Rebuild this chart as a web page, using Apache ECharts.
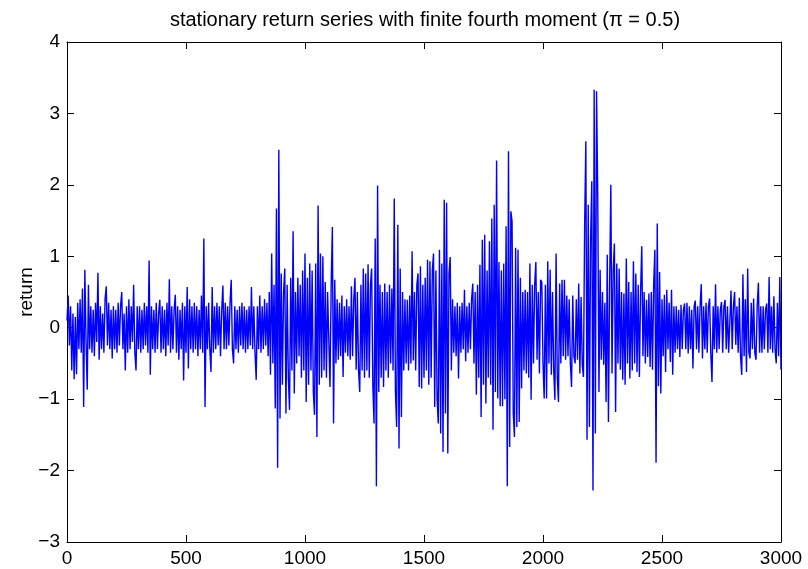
<!DOCTYPE html>
<html>
<head>
<meta charset="utf-8">
<script src="https://cdn.jsdelivr.net/npm/echarts@6/dist/echarts.min.js"></script>
<style>
html,body{margin:0;padding:0;background:#fff;}
#chart{width:808px;height:569px;}
</style>
</head>
<body>
<div id="chart"></div>
<script>
// Observation step (x spacing of the plotted points)
const STEP = 5;
const returns0000 = [
 0.1,0.45,-0.25,0.3,-0.6,0.2,-0.72,0.15,-0.65,0.35,-0.3,0.4,-0.35,0.55,-1.11,0.81,-0.2,-0.87,0.6,-0.3,
 0.3,-0.35,0.25,-0.4,0.35,-0.2,0.77,-0.45,0.3,-0.3,0.2,-0.35,0.4,0.58,-0.25,0.35,-0.3,0.25,-0.43,0.3,
 -0.3,0.25,-0.35,0.35,-0.25,0.3,0.5,-0.3,0.2,-0.6,0.3,-0.35,0.4,-0.3,0.3,-0.2,0.6,-0.35,-0.6,0.3,
 -0.3,0.3,-0.35,0.25,-0.3,0.35,-0.25,0.3,-0.35,0.94,-0.66,0.3,-0.3,0.25,-0.35,0.35,-0.3,0.2,0.39,-0.35,
 0.3,-0.3,0.25,-0.4,0.35,-0.25,0.68,-0.35,0.3,-0.3,0.25,0.46,-0.35,0.3,-0.45,0.25,-0.3,0.35,-0.74,0.3
];
const returns0500 = [
 -0.35,0.57,-0.57,0.4,-0.3,0.3,-0.35,0.35,-0.3,0.3,-0.4,0.25,-0.3,0.45,-0.35,1.25,-1.11,0.3,-0.3,0.35,
 -0.3,-0.62,0.57,-0.35,0.3,-0.3,0.35,-0.25,0.3,-0.4,0.25,0.59,-0.3,0.35,-0.3,0.3,-0.25,0.35,0.67,-0.3,
 -0.5,0.3,-0.3,0.25,-0.35,0.3,-0.25,0.35,-0.3,0.3,-0.35,0.25,-0.3,0.3,-0.25,0.57,-0.3,0.3,-0.35,-0.73,
 0.3,-0.3,0.45,-0.35,0.3,-0.3,0.4,-0.25,0.35,-0.4,0.5,-0.66,1.04,-0.5,0.6,-1.13,1.67,-1.96,2.49,-1.27,
 0.76,-0.8,0.5,0.83,-1.2,0.6,-0.7,-1.15,0.7,-0.6,1.35,-0.92,0.5,-0.5,0.7,-0.4,0.6,-0.7,0.8,-0.6
];
const returns1000 = [
 1.04,-1.04,0.7,-0.8,0.9,-0.6,0.8,-0.9,-1.22,0.9,-1.53,1.71,-0.8,1.04,-0.7,1.0,-0.6,0.64,-0.7,0.5,
 0.48,-0.83,0.6,1.41,-1.34,0.67,-0.5,0.4,-0.45,0.35,-0.4,0.45,-0.69,0.3,-0.35,0.4,-0.4,0.3,-0.45,0.58,
 -0.4,0.4,0.7,-0.59,0.5,-0.6,-0.9,0.6,-0.6,0.83,-0.7,0.76,-0.6,0.89,-0.7,0.6,0.83,-0.8,-1.34,1.25,
 -2.22,1.99,-0.9,0.6,-0.7,0.5,-0.83,0.62,-0.6,0.5,-0.7,0.6,-0.5,0.55,-0.6,1.81,-0.9,-1.39,1.44,-1.69,
 0.83,-1.25,0.5,-0.6,0.4,-0.5,0.39,-0.6,0.45,-0.5,1.07,-0.46,0.5,-0.6,0.6,0.76,-0.83,0.86,-0.85,0.6
];
const returns1500 = [
 -0.7,0.7,-0.6,0.95,-0.8,0.93,-0.7,0.8,1.04,-1.11,0.8,-1.0,-1.34,1.09,-1.48,0.9,-1.74,1.79,-1.2,1.75,
 -1.76,0.76,0.99,-0.6,0.4,-0.35,0.3,-0.4,0.35,-0.71,0.3,-0.35,0.35,-0.3,0.53,-0.47,0.3,-0.35,0.35,-0.3,
 0.4,0.62,-0.5,0.5,-0.94,0.6,-0.7,0.88,-1.25,1.23,-0.8,1.3,-1.06,0.8,-0.7,1.21,-0.8,1.53,-1.43,1.72,
 -0.9,2.34,-0.99,0.92,-1.1,0.8,-1.1,0.9,-1.0,1.42,-2.22,2.47,-1.67,1.63,1.49,-1.2,-1.53,1.12,-1.39,1.09,
 -1.32,0.7,-0.85,0.5,-0.6,0.53,-0.64,0.5,-0.7,0.9,-1.01,0.6,-0.5,0.6,0.92,-0.45,0.5,-0.64,0.67,0.64
];
const returns2000 = [
 -0.5,-0.99,0.6,-0.99,0.93,-0.5,0.81,-0.66,0.5,-0.6,-1.01,1.04,-0.7,-1.04,0.62,-0.5,0.67,-0.4,0.67,-0.45,
 0.45,-0.4,0.4,-0.5,-0.83,0.45,-0.4,-0.5,0.4,-0.45,0.62,-0.64,0.43,-0.52,-0.69,1.44,2.61,-1.57,1.72,-1.39,
 1.23,2.05,-2.28,3.33,-1.48,3.31,1.86,-0.9,0.81,-0.45,0.5,-0.52,0.35,-1.04,1.02,-1.32,0.6,2.0,-0.64,0.81,
 1.18,-1.18,0.9,-0.5,0.83,-0.59,0.5,-0.73,0.48,-0.8,0.97,-0.5,0.64,-0.71,0.5,-0.6,0.93,-0.5,0.76,-0.62,
 0.6,-0.69,0.5,1.14,-0.4,0.5,-0.5,0.39,-0.41,0.48,-0.55,0.5,-0.59,0.6,1.09,-1.89,1.46,-0.82,0.78,-0.92
];
const returns2500 = [
 0.4,-0.4,0.46,-0.62,0.53,-0.3,0.35,-0.48,0.53,-0.66,0.3,-0.35,0.3,-0.3,0.25,-0.41,0.32,-0.3,0.25,0.34,
 -0.3,0.35,-0.36,0.3,-0.3,0.25,-0.57,0.3,0.38,-0.3,0.3,-0.35,0.3,0.61,-0.43,0.3,-0.3,0.35,-0.35,0.3,
 0.41,-0.35,-0.76,0.3,-0.3,0.61,-0.35,0.3,-0.3,0.25,0.36,-0.35,0.3,0.39,-0.3,0.3,-0.35,-0.36,0.52,-0.3,
 0.3,0.5,-0.24,0.3,-0.35,0.42,-0.4,-0.66,0.75,-0.4,0.4,-0.62,0.83,-0.35,-0.43,0.35,-0.3,0.41,-0.35,-0.45,
 0.3,0.63,-0.35,0.3,-0.35,0.3,-0.3,0.25,0.34,-0.35,0.71,-0.3,0.3,-0.35,0.44,-0.3,-0.5,0.35,-0.4,0.71,
 -0.59
];
const xTicks = [0, 500, 1000, 1500, 2000, 2500, 3000];
const yTicks = [-3, -2, -1, 0, 1, 2, 3, 4];
const titleText = 'stationary return series with finite fourth moment (\u03c0 = 0.5)';
const yLabel = 'return';

const returns = [].concat(returns0000, returns0500, returns1000, returns1500, returns2000, returns2500);
const seriesData = returns.map((v, i) => [i * STEP, v]);

const FONT = 'Liberation Sans, Arial, Helvetica, sans-serif';
const fmt = v => String(v).replace('-', '\u2212');

const chart = echarts.init(document.getElementById('chart'), null, {renderer: 'canvas'});
const axisLine = {show: true, onZero: false, lineStyle: {color: '#000', width: 1}};
const axisTick = {show: true, inside: true, length: 7, lineStyle: {color: '#000', width: 1}};
chart.setOption({
  animation: false,
  backgroundColor: '#fff',
  title: {
    text: titleText,
    left: 425, top: 10, textAlign: 'center', padding: 0,
    textStyle: {fontFamily: FONT, fontSize: 20, fontWeight: 'normal', color: '#000'}
  },
  grid: {left: 67, right: 27, top: 42, bottom: 27, containLabel: false},
  xAxis: [{
    type: 'value', min: xTicks[0], max: xTicks[xTicks.length - 1], interval: 500,
    position: 'bottom',
    axisLine, axisTick, splitLine: {show: false},
    axisLabel: {fontFamily: FONT, fontSize: 19, color: '#000', margin: 7, formatter: fmt}
  }, {
    type: 'value', min: xTicks[0], max: xTicks[xTicks.length - 1], interval: 500,
    position: 'top',
    axisLine, axisTick, splitLine: {show: false}, axisLabel: {show: false}
  }],
  yAxis: [{
    type: 'value', min: yTicks[0], max: yTicks[yTicks.length - 1], interval: 1,
    position: 'left',
    name: yLabel, nameLocation: 'middle', nameGap: 31, nameRotate: 90,
    nameMoveOverlap: false,
    nameTextStyle: {fontFamily: FONT, fontSize: 19, color: '#000'},
    axisLine, axisTick, splitLine: {show: false},
    axisLabel: {fontFamily: FONT, fontSize: 19, color: '#000', margin: 7, formatter: fmt}
  }, {
    type: 'value', min: yTicks[0], max: yTicks[yTicks.length - 1], interval: 1,
    position: 'right',
    axisLine, axisTick, splitLine: {show: false}, axisLabel: {show: false}
  }],
  series: [{
    type: 'line',
    data: seriesData,
    xAxisIndex: 0, yAxisIndex: 0,
    showSymbol: false,
    symbol: 'none',
    lineStyle: {color: '#0000ff', width: 1.4},
    itemStyle: {color: '#0000ff'}
  }]
});
</script>
</body>
</html>
